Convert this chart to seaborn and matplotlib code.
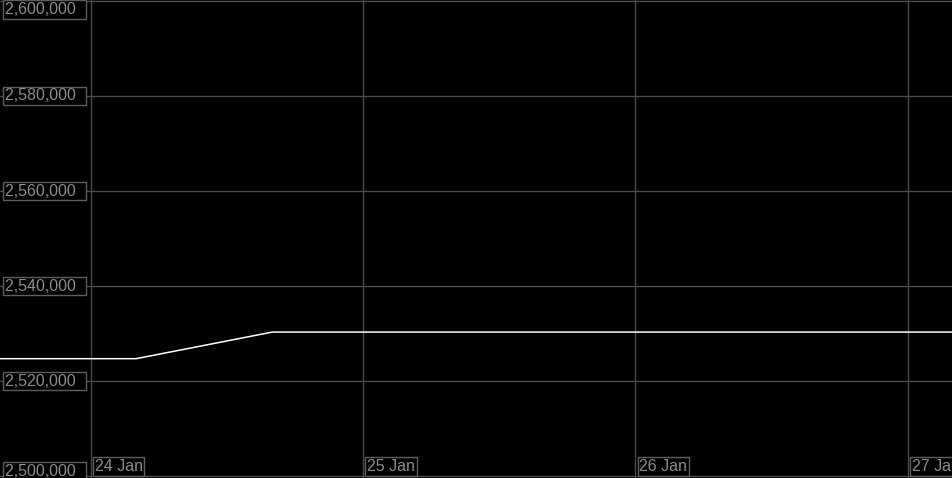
import pandas as pd
import matplotlib.pyplot as plt
import matplotlib.transforms as mtransforms
import seaborn as sns

# Data (12-hour samples)
times = pd.date_range("2024-01-23 16:00", "2024-01-27 04:00", freq="12h")
values = [2524700, 2524700, 2530300, 2530300, 2530300, 2530300, 2530300, 2530300]

y_ticks = [2500000, 2520000, 2540000, 2560000, 2580000, 2600000]
x_ticks = pd.to_datetime(["2024-01-24", "2024-01-25", "2024-01-26", "2024-01-27"])
x_labels = ["24 Jan", "25 Jan", "26 Jan", "27 Jan"]

df = pd.DataFrame({"time": times, "value": values})

sns.set_style("dark")
plt.rcParams["font.family"] = ["Liberation Sans", "DejaVu Sans"]

grid_col = "#4a4a4a"
text_col = "#8c8c8c"
box_col = "#5e5e5e"

fig = plt.figure(figsize=(9.53, 4.78), dpi=100, facecolor="black")
ax = fig.add_axes([0, 0, 1, 1])
ax.set_facecolor("black")

sns.lineplot(data=df, x="time", y="value", ax=ax, color="white", linewidth=1.1)

ax.set_xlim(times[0], times[-1])
ax.set_ylim(2499580, 2600210)
ax.set_xticks(x_ticks)
ax.set_yticks(y_ticks)
ax.grid(True, color=grid_col, linewidth=1)
ax.tick_params(length=0, labelbottom=False, labelleft=False)
for s in ax.spines.values():
    s.set_visible(False)
ax.set_xlabel("")
ax.set_ylabel("")

box = dict(boxstyle="square,pad=0.1", facecolor="black", edgecolor=box_col, linewidth=1)

# y labels in boxes at the left edge
for v in y_ticks:
    va, dy = "center", 0
    if v == y_ticks[-1]:
        va, dy = "top", -1
    elif v == y_ticks[0]:
        va, dy = "bottom", -3
    tr = mtransforms.offset_copy(ax.get_yaxis_transform(), fig=fig, x=5, y=dy, units="dots")
    ax.text(0, v, f"{v:,}  ", transform=tr, ha="left", va=va,
            fontsize=11.5, color=text_col, bbox=box, zorder=5)

# x labels in boxes along the bottom
for d, lab in zip(x_ticks, x_labels):
    tr = mtransforms.offset_copy(ax.get_xaxis_transform(), fig=fig, x=4, y=4, units="dots")
    ax.text(d, 0, lab, transform=tr, ha="left", va="bottom",
            fontsize=11.5, color=text_col, bbox=box, zorder=5)

fig.savefig("out.png", dpi=100, facecolor="black")
